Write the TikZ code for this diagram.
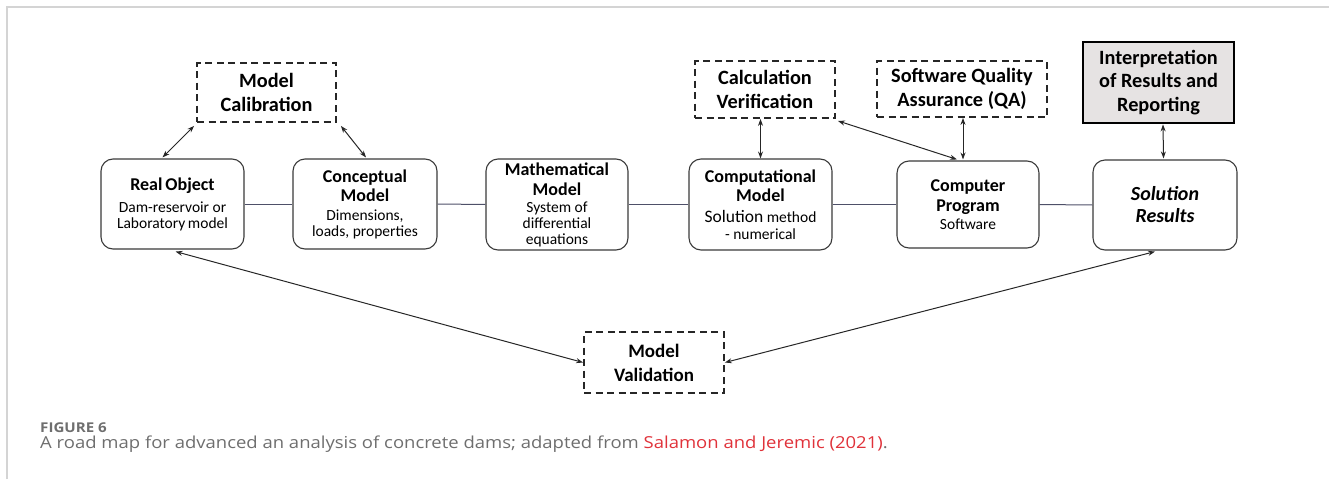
\documentclass[tikz,border=0pt]{standalone}
\usepackage{fontspec}
\setmainfont{Carlito}
\newfontfamily\capfont[FakeStretch=1.12]{Open Sans}
\usetikzlibrary{arrows.meta,calc}
\definecolor{framegray}{HTML}{D4D4D4}
\definecolor{boxline}{HTML}{3A3A3A}
\definecolor{linkline}{HTML}{4E5068}
\definecolor{interpfill}{HTML}{E6E3E3}
\definecolor{capgray}{HTML}{6E6E6E}
\definecolor{capred}{HTML}{E0323A}
\tikzset{
  rbox/.style={draw=boxline, line width=1.1pt, rounded corners=12pt, fill=white,
    align=center, inner sep=2pt, font=\fontsize{15.5}{16}\selectfont},
  dbox/.style={draw=black!85, line width=1.8pt, dash pattern=on 7pt off 4.5pt,
    align=center, inner sep=2pt, font=\fontsize{20.3}{23.5}\selectfont\bfseries},
  ibox/.style={draw=black, line width=2.8pt, fill=interpfill,
    align=center, inner sep=2pt, font=\fontsize{20.3}{23.5}\selectfont\bfseries},
  link/.style={draw=linkline, line width=1pt},
  biarrow/.style={draw=black!85, line width=1pt, {Stealth[length=7pt,width=5pt]}-{Stealth[length=7pt,width=5pt]}},
}
\newcommand{\ttl}[1]{{\fontsize{18}{19}\selectfont\bfseries #1}}
\begin{document}
\begin{tikzpicture}[x=1pt,y=-1pt]
\useasboundingbox (0,0) rectangle (1329,479);
% frame
\draw[framegray, line width=1.5pt] (7,479) -- (7,7) -- (1329,7);
% main boxes
\node[rbox, minimum width=143pt, minimum height=90pt] (real) at (172.5,204)
  {\ttl{Real\,Object}\\[6pt]Dam-reservoir or\\Laboratory\,model};
\node[rbox, minimum width=144pt, minimum height=90pt] (conc) at (365,204)
  {\ttl{Conceptual}\\[3pt]\ttl{Model}\\[3pt]Dimensions,\\loads, properties};
\node[rbox, minimum width=142pt, minimum height=91pt] (math) at (557,204.5)
  {\ttl{Mathematical}\\[4pt]\ttl{Model}\\[1pt]System of\\differential\\equations};
\node[rbox, minimum width=143pt, minimum height=91pt] (comp) at (760.5,204.5)
  {\ttl{Computational}\\[3pt]\ttl{Model}\\[5pt]{\fontsize{17.5}{19}\selectfont Solution} method\\[1pt]- numerical};
\node[rbox, minimum width=142pt, minimum height=87pt] (prog) at (968,204.5)
  {\ttl{Computer}\\[4pt]\ttl{Program}\\[2pt]Software};
\node[rbox, minimum width=144pt, minimum height=90pt, font=\fontsize{20}{22}\selectfont\bfseries\itshape] (sol) at (1165,205)
  {Solution\\Results};
% upper boxes
\node[dbox, minimum width=139pt, minimum height=59pt] (cal) at (266.5,92.5) {Model\\Calibration};
\node[dbox, minimum width=140pt, minimum height=57pt] (ver) at (765,89.5) {Calculation\\Verification};
\node[dbox, minimum width=170pt, minimum height=56pt] (sqa) at (962,89) {Software Quality\\Assurance (QA)};
\node[ibox, minimum width=151pt, minimum height=81pt] (int) at (1158.5,82.5) {Interpretation\\of Results and\\Reporting};
% lower box
\node[dbox, minimum width=140pt, minimum height=61pt, font=\fontsize{19}{24}\selectfont\bfseries] (val) at (654,362.5) {Model\\Validation};
% horizontal links
\draw[link] (real.east) -- (conc.west);
\draw[link] (conc.east) -- (math.west);
\draw[link] (math.east) -- (comp.west);
\draw[link] (comp.east) -- (prog.west);
\draw[link] (prog.east) -- (sol.west);
% arrows
\draw[biarrow] ($(real.north)+(-10,-1)$) -- ($(cal.south west)+(-2,3)$);
\draw[biarrow] ($(cal.south east)+(4,3)$) -- ($(conc.north)+(1,-1)$);
\draw[biarrow] (comp.north |- ver.south) -- (comp.north);
\draw[biarrow] ($(ver.south east)+(2,2)$) -- ($(prog.north)+(-11,-1)$);
\draw[biarrow] ($(sqa.south)+(1,0)$) -- ($(prog.north)+(-5,-1)$);
\draw[biarrow] ($(int.south)+(4.5,0)$) -- ($(sol.north)+(-1.5,-1)$);
\draw[biarrow] ($(real.south)+(3,2)$) -- (val.west);
\draw[biarrow] ($(sol.south)+(-10,1)$) -- (val.east);
% caption
\node[anchor=base west, inner sep=0pt, text=capgray, font=\capfont\bfseries\fontsize{13.5}{15}\selectfont] (fig) at (40,432) {FIGURE 6};
\node[anchor=base west, inner sep=0pt, text=capgray, font=\capfont\fontsize{16.5}{18}\selectfont] (cap) at (40,448)
  {A road map for advanced an analysis of concrete dams; adapted from \textcolor{capred}{Salamon and Jeremic (2021)}.};
\end{tikzpicture}
\end{document}
